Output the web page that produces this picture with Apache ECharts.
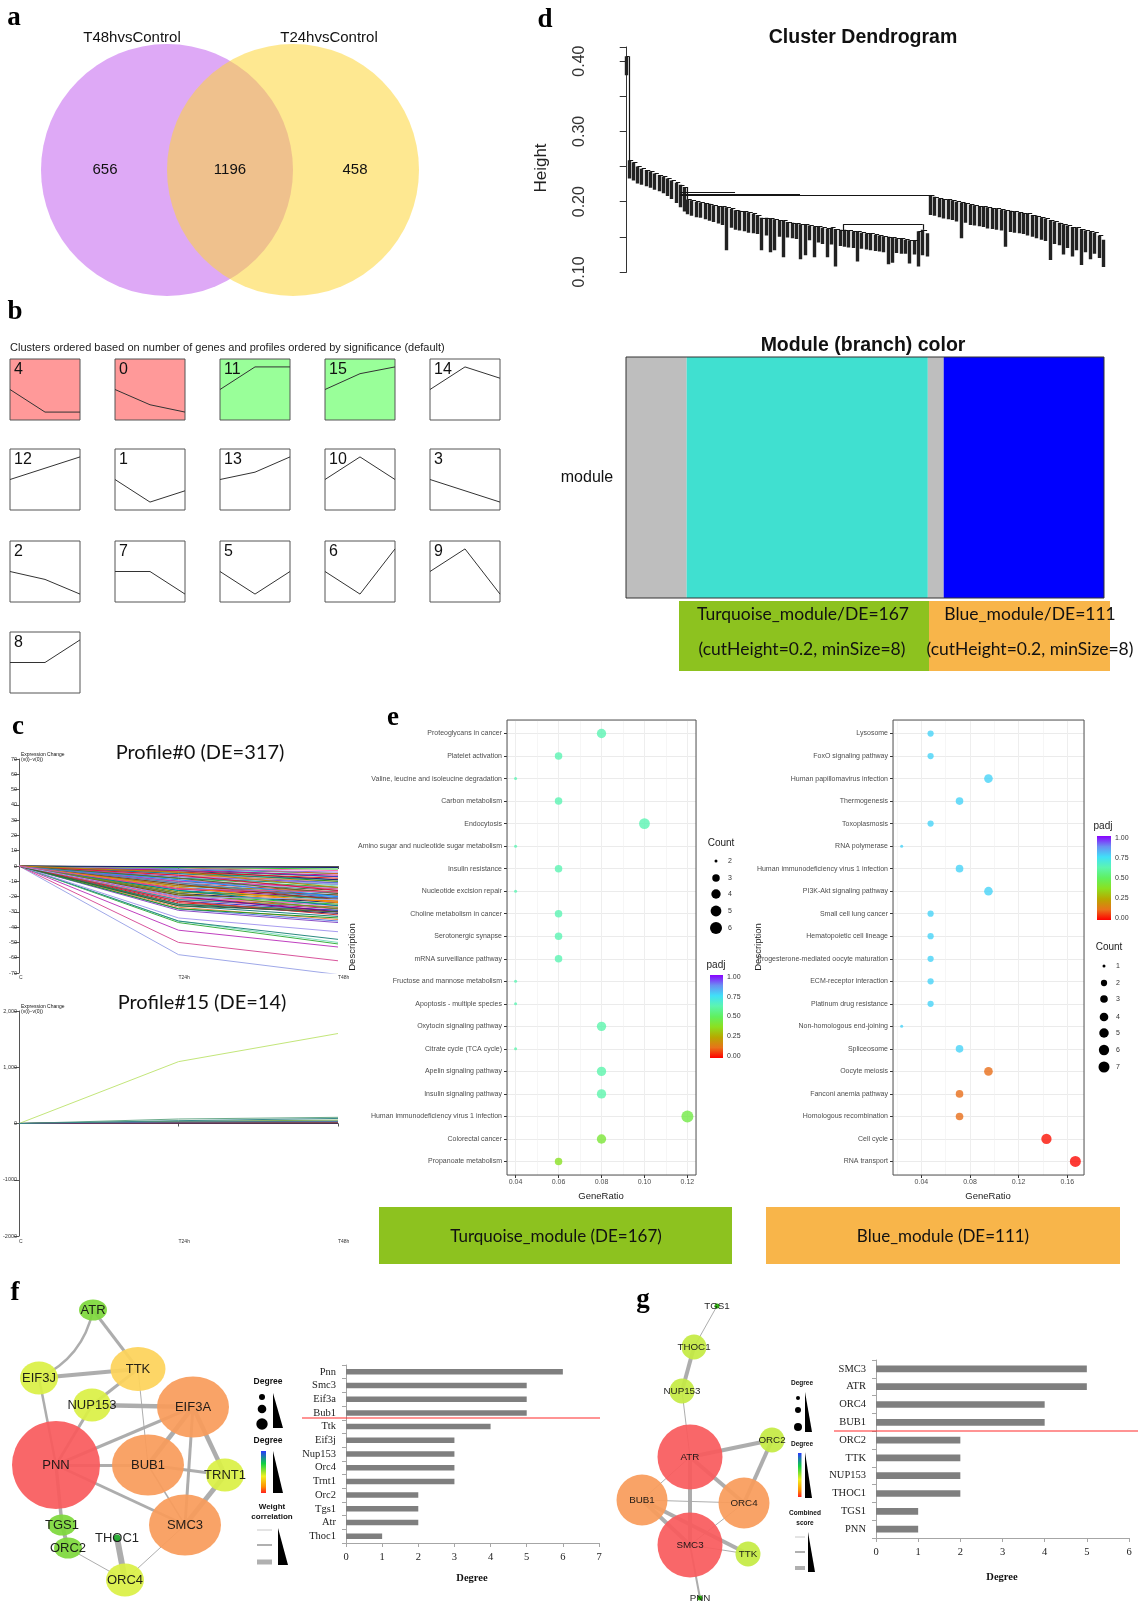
<!DOCTYPE html>
<html><head><meta charset="utf-8">
<script src="https://cdn.jsdelivr.net/npm/echarts@6/dist/echarts.min.js"></script>
<style>html,body{margin:0;padding:0;background:#fff}#c{width:1141px;height:1601px}</style>
</head><body><div id="c"></div>
<script>
// ---------------- DATA ----------------
// a: Venn
const vennSets = ['T48hvsControl', 'T24hvsControl'];
const vennCounts = [656, 1196, 458]; // only T48h, shared, only T24h

// b: STEM model profiles (v at C, T24h, T48h in unit steps)
const timeLabels = ['C', 'T24h', 'T48h'];
const profileIds = [4, 0, 11, 15, 14, 12, 1, 13, 10, 3, 2, 7, 5, 6, 9, 8];
const profileVals = [[0,-2,-2],[0,-1.35,-2],[0,2,2],[0,1.4,2],[0,2,1],[0,1,2],[0,-2,-1],[0,0.65,2],[0,2,0],[0,-1,-2],[0,-0.7,-2],[0,0,-2],[0,-2,0],[0,-2,2],[0,2,-2],[0,0,2]];
const profileSig = ['down','down','up','up','none','none','none','none','none','none','none','none','none','none','none','none'];

// c: gene expression change lines (v(T24h), v(T48h)), v(C)=0
const profile0Lines = [[-58,-71],[-50,-62],[-42,-53],[-37,-51],[-36,-50],[-36,-48],[-34,-43],[-29,-37],[-28,-36],[-27,-35],[-28,-34],[-26,-33],[-25,-31],[-24,-30],[-25,-29],[-23,-29],[-22,-28],[-22,-27],[-21,-27],[-20,-26],[-21,-25],[-19,-25],[-18,-24],[-19,-23],[-17,-23],[-16,-22],[-17,-21],[-15,-21],[-14,-20],[-15,-19],[-13,-19],[-12,-18],[-13,-17],[-11,-17],[-10,-16],[-11,-15],[-9,-15],[-10,-14],[-8,-14],[-7,-13],[-8,-12],[-6,-12],[-7,-11],[-5,-11],[-6,-10],[-4,-10],[-5,-9],[-3,-9],[-4,-8],[-3,-7],[-2,-7],[-3,-6],[-2,-5],[-1,-5],[-2,-4],[-1,-3],[-1,-2],[-0.5,-1],[-12,-22],[-14,-24],[-16,-26],[-18,-28],[-20,-30],[-9,-20],[-6,-16],[-8,-18],[-11,-21],[-4,-14],[-23,-32],[-26,-30],[-20,-22],[-15,-17]];
const profile15Lines = [[1100,1600],[80,110],[10,30],[20,25],[5,15],[30,40],[15,20],[8,12],[40,60],[3,8],[12,18],[25,35],[6,10],[50,90]];

// d: dendrogram (heights x1000) and modules
const outlierLeaf = [380, 407];
const greyTop = [259,256,250,247,245,243,240,238,236,233,230,227,224,221];
const greyBot = [233,230,226,224,222,220,217,215,212,208,204,198,192,186];
const turqTop = [203,202,200,199,198,197,195,194,193,192,190,188,187,186,185,183,181,177,177,176,175,174,173,171,170,169,168,168,166,165,165,163,162,163,161,160,160,159,158,158,156,155,155,153,152,151,150,149,148,148,146,145,145,158,160,155];
const turqBot = [182,180,178,177,175,173,171,169,167,131,163,160,159,158,156,155,154,131,152,128,131,150,121,149,148,147,118,124,145,121,142,140,121,139,108,137,136,135,134,115,133,132,131,130,129,128,111,113,127,126,126,112,125,108,124,122];
const rightTop = [209,207,205,204,203,202,200,199,198,196,195,194,193,192,191,190,189,188,187,186,185,184,183,181,180,178,176,174,172,170,168,166,164,163,161,159,158,156,152,146];
const rightBot = [181,180,178,176,175,174,172,148,170,167,166,165,164,162,161,160,159,136,157,156,155,154,152,150,148,146,144,117,140,138,125,134,122,131,110,128,118,126,120,107];
const dendroJoins = [[0,1.5,407],[40,42,221],[37,75,213],[37,120,211],[37,210,209.5],[150,205,168]];
const dendroStems = [[1.5,259,407],[42,203,221],[205,160,168],[150,158,168]];
const moduleNames = ['grey','turquoise','grey','blue'];
const moduleSizes = [42, 167, 11, 111];

// e: KEGG enrichment
const turqTerms = ['Proteoglycans in cancer','Platelet activation','Valine, leucine and isoleucine degradation','Carbon metabolism','Endocytosis','Amino sugar and nucleotide sugar metabolism','Insulin resistance','Nucleotide excision repair','Choline metabolism in cancer','Serotonergic synapse','mRNA surveillance pathway','Fructose and mannose metabolism','Apoptosis - multiple species','Oxytocin signaling pathway','Citrate cycle (TCA cycle)','Apelin signaling pathway','Insulin signaling pathway','Human immunodeficiency virus 1 infection','Colorectal cancer','Propanoate metabolism'];
const turqRatio = [0.08,0.06,0.04,0.06,0.10,0.04,0.06,0.04,0.06,0.06,0.06,0.04,0.04,0.08,0.04,0.08,0.08,0.12,0.08,0.06];
const turqCount = [4,3,2,3,5,2,3,2,3,3,3,2,2,4,2,4,4,6,4,3];
const turqPadj = [0.63,0.63,0.63,0.63,0.63,0.63,0.63,0.63,0.63,0.63,0.63,0.63,0.63,0.62,0.62,0.62,0.62,0.45,0.42,0.38];
const blueTerms = ['Lysosome','FoxO signaling pathway','Human papillomavirus infection','Thermogenesis','Toxoplasmosis','RNA polymerase','Human immunodeficiency virus 1 infection','PI3K-Akt signaling pathway','Small cell lung cancer','Hematopoietic cell lineage','Progesterone-mediated oocyte maturation','ECM-receptor interaction','Platinum drug resistance','Non-homologous end-joining','Spliceosome','Oocyte meiosis','Fanconi anemia pathway','Homologous recombination','Cell cycle','RNA transport'];
const blueRatio = [0.0476,0.0476,0.0952,0.0714,0.0476,0.0238,0.0714,0.0952,0.0476,0.0476,0.0476,0.0476,0.0476,0.0238,0.0714,0.0952,0.0714,0.0714,0.1429,0.1667];
const blueCount = [2,2,4,3,2,1,3,4,2,2,2,2,2,1,3,4,3,3,6,7];
const bluePadj = [0.77,0.77,0.77,0.77,0.77,0.77,0.77,0.77,0.77,0.77,0.77,0.77,0.77,0.77,0.77,0.12,0.12,0.12,0.02,0.01];
const padjTicks = ['1.00','0.75','0.50','0.25','0.00'];

// f, g: PPI networks and degree bars
const fBarGenes = ['Pnn','Smc3','Eif3a','Bub1','Ttk','Eif3j','Nup153','Orc4','Trnt1','Orc2','Tgs1','Atr','Thoc1'];
const fBarDegree = [6,5,5,5,4,3,3,3,3,2,2,2,1];
const gBarGenes = ['SMC3','ATR','ORC4','BUB1','ORC2','TTK','NUP153','THOC1','TGS1','PNN'];
const gBarDegree = [5,5,4,4,2,2,2,2,1,1];
const fNodes = ['ATR','TTK','EIF3J','NUP153','EIF3A','PNN','BUB1','TRNT1','SMC3','TGS1','THOC1','ORC2','ORC4'];
const fNodeX = [93,138,39,92,193,56,148,225,185,62,117,68,125];
const fNodeY = [20,79,88,115,117,175,175,185,235,235,248,258,290];
const fEdges = [['ATR','EIF3J',2.5],['ATR','TTK',3],['EIF3J','TTK',4],['TTK','NUP153',3],['TTK','BUB1',1],['EIF3J','PNN',2.5],['NUP153','EIF3A',4.5],['NUP153','PNN',3],['PNN','EIF3A',3],['PNN','BUB1',3],['BUB1','EIF3A',4.5],['BUB1','TRNT1',3],['BUB1','SMC3',1.5],['EIF3A','SMC3',3],['EIF3A','TRNT1',4.5],['TRNT1','SMC3',5],['PNN','SMC3',3],['PNN','TGS1',3.5],['TGS1','ORC2',4],['ORC2','ORC4',1],['THOC1','ORC4',6],['SMC3','ORC4',1]];
const gNodes = ['TGS1','THOC1','NUP153','ATR','ORC2','BUB1','ORC4','SMC3','TTK','PNN'];
const gNodeX = [117,94,82,90,172,42,144,90,148,100];
const gNodeY = [26,67,111,177,160,220,223,265,274,318];
const gEdges = [['TGS1','THOC1',1],['THOC1','NUP153',4],['NUP153','ATR',1],['ATR','ORC2',4],['ORC2','ORC4',4],['ATR','ORC4',4],['ATR','BUB1',1],['ATR','SMC3',4],['BUB1','ORC4',1],['BUB1','SMC3',4],['BUB1','TTK',4],['SMC3','ORC4',1],['SMC3','TTK',1],['SMC3','PNN',2]];

// ---------------- STYLE ----------------
const SANS = "'Liberation Sans', Arial, sans-serif";
const SERIF = "'Liberation Serif', 'Times New Roman', serif";
const CAL = "Lato, 'Open Sans', sans-serif";
const padjColors = ['#FF0000','#E8731A','#B8A800','#8CE020','#60F060','#5CF5B0','#40E0F8','#6A90F2','#8A00FF'];
const moduleColorMap = {grey:'#BEBEBE', turquoise:'#40E0D0', blue:'#0000FF'};
const stemPalette = ['#9FA8E8','#D9559C','#C040C0','#3CB043','#80E0C0','#2A8A80','#A89CF0','#8A4FC8','#5577DD','#EE8844','#229922','#1E7F7F','#202070','#E41A1C','#2E8B57','#3A3AC8','#C71585','#20B2AA','#D2691E','#9370DB','#FF69B4','#32CD32','#191970','#8B4513','#FF8C00','#008B8B','#6B8E23','#800080','#1E90FF','#DC143C','#556B2F','#4682B4','#B8860B','#CC3333','#336633'];
const p15Colors = ['#C3E67A','#6AAA8A','#1C2A6E','#444444','#7A3D7A','#2F6F4F','#884444','#335588','#77AA55','#222222','#AA6633','#5577AA','#663366','#3A8A8A'];

// ---------------- BUILD ----------------
const grids = [], xAxes = [], yAxes = [], series = [], graphics = [];
function addCart(g, x, y) {
  const gi = grids.length; grids.push(g);
  const xi = xAxes.length; xAxes.push(Object.assign({gridIndex: gi}, x));
  const yi = yAxes.length; yAxes.push(Object.assign({gridIndex: gi}, y));
  return {gi, xi, yi};
}
function T(text, x, y, font, extra) {
  extra = extra || {};
  graphics.push(Object.assign({type: 'text', x: x, y: y, z: 60, silent: true,
    style: Object.assign({text: text, font: font, fill: '#111', align: 'center', verticalAlign: 'middle', textAlign: 'center', textVerticalAlign: 'middle'}, extra.style || {})}, extra.el || {}));
}
function R(x, y, w, h, style, z) { graphics.push({type: 'rect', z: z || 40, silent: true, shape: {x, y, width: w, height: h}, style}); }
function L(x1, y1, x2, y2, stroke, lw, z) { graphics.push({type: 'line', z: z || 40, silent: true, shape: {x1, y1, x2, y2}, style: {stroke, lineWidth: lw}}); }
function C(cx, cy, r, fill, z, opacity) { graphics.push({type: 'circle', z: z || 40, silent: true, shape: {cx, cy, r}, style: {fill, opacity: opacity == null ? 1 : opacity}}); }
function P(points, fill) { graphics.push({type: 'polygon', z: 40, silent: true, shape: {points}, style: {fill}}); }
const hid = (o) => Object.assign({type: 'value', show: false}, o);

// panel letters
[['a',14,18],['b',15,312],['c',18,727],['d',545,20],['e',393,718],['f',15,1293],['g',643,1300]].forEach(p => T(p[0], p[1], p[2], 'bold 27px ' + SERIF, {style: {fill: '#000'}}));

// ---- a: Venn ----
C(167, 170, 126, '#DEA9F6', 5);
C(293, 170, 126, '#FDD537', 6, 0.55);
T(vennSets[0], 132, 38, '15px ' + SANS);
T(vennSets[1], 329, 38, '15px ' + SANS);
T(String(vennCounts[0]), 105, 170, '15px ' + SANS);
T(String(vennCounts[1]), 230, 170, '15px ' + SANS);
T(String(vennCounts[2]), 355, 170, '15px ' + SANS);

// ---- b: profiles ----
T('Clusters ordered based on number of genes and profiles ordered by significance (default)', 10, 348, '11px ' + SANS, {style: {align: 'left', textAlign: 'left', fill: '#222'}});
const rowTops = [359, 449, 541, 632];
const sigBg = {down: '#FF9999', up: '#99FF99', none: '#FFFFFF'};
profileIds.forEach((id, i) => {
  const col = i % 5, row = Math.floor(i / 5);
  const left = 10 + col * 105, top = rowTops[row];
  const c = addCart({left, top, width: 70, height: 61, show: true, borderColor: '#555', borderWidth: 1, backgroundColor: sigBg[profileSig[i]]},
    {type: 'category', data: timeLabels, boundaryGap: false, show: false},
    hid({min: -2.7, max: 2.7}));
  series.push({type: 'line', xAxisIndex: c.xi, yAxisIndex: c.yi, data: profileVals[i], symbol: 'none', silent: true, lineStyle: {color: '#333', width: 1}});
  T(String(id), left + 4, top + 11, '16px ' + SANS, {style: {align: 'left', textAlign: 'left', fill: '#111'}});
});

// ---- c: profile line charts ----
const axC = {lineStyle: {color: '#555', width: 1}};
const ct = addCart({left: 19, top: 759, width: 319, height: 214},
  {type: 'category', data: timeLabels, boundaryGap: false, axisLine: Object.assign({onZero: true}, axC), axisTick: {show: true, length: 3, lineStyle: {color: '#555'}}, axisLabel: {fontSize: 5, margin: 2, color: '#333', align: 'left'}},
  {type: 'value', min: -70, max: 70, interval: 10, axisLine: Object.assign({show: true}, axC), axisTick: {show: true, length: 5, lineStyle: {color: '#555'}}, axisLabel: {fontSize: 5.5, margin: 2, color: '#333'}, splitLine: {show: false}});
profile0Lines.forEach((v, i) => series.push({type: 'line', xAxisIndex: ct.xi, yAxisIndex: ct.yi, data: [0, v[0], v[1]], symbol: 'none', silent: true, lineStyle: {color: stemPalette[i % stemPalette.length], width: 1}}));
T('Profile#0 (DE=317)', 200, 753, '20px ' + CAL);
T('Expression Change', 21, 755, '5px ' + SANS, {style: {align: 'left', textAlign: 'left'}});
T('(v(i)\u2212v(0))', 21, 760, '5px ' + SANS, {style: {align: 'left', textAlign: 'left'}});

const p15Fmt = {'2000': '2,000', '1000': '1,000', '0': '0', '-1000': '-1000', '-2000': '-2000'};
const cb = addCart({left: 19, top: 1011, width: 319, height: 225},
  {type: 'category', data: timeLabels, boundaryGap: false, axisLine: Object.assign({onZero: true}, axC), axisTick: {show: true, length: 3, lineStyle: {color: '#555'}}, axisLabel: {fontSize: 5, margin: 3, color: '#333', align: 'left'}},
  {type: 'value', min: -2000, max: 2000, interval: 1000, axisLine: Object.assign({show: true}, axC), axisTick: {show: true, length: 5, lineStyle: {color: '#555'}}, axisLabel: {fontSize: 5.5, margin: 2, color: '#333', formatter: v => p15Fmt[String(v)] || ''}, splitLine: {show: false}});
profile15Lines.forEach((v, i) => series.push({type: 'line', xAxisIndex: cb.xi, yAxisIndex: cb.yi, data: [0, v[0], v[1]], symbol: 'none', silent: true, lineStyle: {color: p15Colors[i % p15Colors.length], width: 1}}));
T('Profile#15 (DE=14)', 202, 1003, '20px ' + CAL);
T('Expression Change', 21, 1007, '5px ' + SANS, {style: {align: 'left', textAlign: 'left'}});
T('(v(i)\u2212v(0))', 21, 1012, '5px ' + SANS, {style: {align: 'left', textAlign: 'left'}});

// ---- d: dendrogram ----
const dd = addCart({left: 626, top: 47, width: 478, height: 225},
  hid({min: -0.5, max: 330.5}),
  {type: 'value', min: 0.1, max: 0.42, interval: 0.05, offset: 18,
   axisLine: {show: true, lineStyle: {color: '#333', width: 1}}, axisTick: {show: true, length: 7, lineStyle: {color: '#333'}},
   axisLabel: {rotate: 90, fontSize: 16, margin: 20, color: '#333', fontFamily: SANS, formatter: v => { const r = Math.round(v * 100); return r % 10 === 0 ? (r / 100).toFixed(2) : ''; }},
   splitLine: {show: false}});
const dVert = [], dHor = [];
function chain(tops, bots, i0, i1) {
  const n = tops.length;
  for (let k = 0; k < n; k++) {
    const x = i0 + k * (i1 - i0) / (n - 1);
    dVert.push({coords: [[x, bots[k] / 1000], [x, tops[k] / 1000]]});
    if (k < n - 1) dHor.push({coords: [[x, tops[k] / 1000], [i0 + (k + 1) * (i1 - i0) / (n - 1), tops[k] / 1000]]});
  }
}
const mEnd1 = moduleSizes[0], mEnd2 = moduleSizes[0] + moduleSizes[1];
chain(greyTop, greyBot, 1.5, mEnd1 - 2);
chain(turqTop, turqBot, mEnd1, mEnd2 - 1);
chain(rightTop, rightBot, mEnd2 + 1, 330);
dVert.push({coords: [[0, outlierLeaf[0] / 1000], [0, outlierLeaf[1] / 1000]]});
dendroJoins.forEach(j => dHor.push({coords: [[j[0], j[2] / 1000], [j[1], j[2] / 1000]]}));
dendroStems.forEach(s => dHor.push({coords: [[s[0], s[1] / 1000], [s[0], s[2] / 1000]]}));
series.push({type: 'lines', coordinateSystem: 'cartesian2d', xAxisIndex: dd.xi, yAxisIndex: dd.yi, silent: true, data: dVert, lineStyle: {color: '#222222', width: 3.4, opacity: 1}});
series.push({type: 'lines', coordinateSystem: 'cartesian2d', xAxisIndex: dd.xi, yAxisIndex: dd.yi, silent: true, data: dHor, lineStyle: {color: '#151515', width: 1.2, opacity: 1}});
T('Cluster Dendrogram', 863, 38, 'bold 19.5px ' + SANS);
T('Height', 541, 168, '17px ' + SANS, {el: {rotation: Math.PI / 2}, style: {fill: '#222'}});

// module colour bar
const mb = addCart({left: 626, top: 357, width: 478, height: 241}, hid({min: 0, max: 331}), {type: 'category', data: ['module'], show: false});
moduleSizes.forEach((v, i) => series.push({type: 'bar', xAxisIndex: mb.xi, yAxisIndex: mb.yi, stack: 'mod', data: [v], barWidth: '100%', silent: true, itemStyle: {color: moduleColorMap[moduleNames[i]]}}));
R(626, 357, 478, 241, {fill: 'none', stroke: '#333', lineWidth: 1}, 45);
T('Module (branch) color', 863, 346, 'bold 19.5px ' + SANS, {el: {z: 70}});
T('module', 587, 478, '16px ' + SANS);
R(679, 601, 250, 70, {fill: '#8DC21F'}, 30);
R(929, 601, 181, 70, {fill: '#F8B54A'}, 30);
T('Turquoise_module/DE=' + moduleSizes[1], 803, 614, '17.5px ' + CAL);
T('(cutHeight=0.2, minSize=8)', 802, 649, '17.5px ' + CAL);
T('Blue_module/DE=' + moduleSizes[3], 1030, 614, '17.5px ' + CAL);
T('(cutHeight=0.2, minSize=8)', 1030, 649, '17.5px ' + CAL);

// ---- e: KEGG dot plots ----
function dotSize(c, cmin, cmax, smin, smax) { return smin + Math.sqrt((c - cmin) / (cmax - cmin)) * (smax - smin); }
function ePlot(left, width, xmin, xmax, major, minor, terms, ratio, count, padj, cmin, cmax, smax) {
  const g = addCart({left, top: 720, width, height: 455},
    {type: 'value', position: 'bottom', min: xmin, max: xmax, minInterval: major, maxInterval: major, axisLine: {show: false, onZero: false},
     axisTick: {show: true, length: 3, lineStyle: {color: '#333'}},
     axisLabel: {fontSize: 7, color: '#4D4D4D', margin: 4, fontFamily: SANS, showMinLabel: false, showMaxLabel: false, formatter: v => v.toFixed(2)},
     splitLine: {show: true, lineStyle: {color: '#EBEBEB', width: 1}}},
    {type: 'value', inverse: true, min: -0.6, max: terms.length - 0.4, minInterval: 1, maxInterval: 1, axisLine: {show: false, onZero: false},
     axisTick: {show: true, length: 3, lineStyle: {color: '#333'}},
     axisLabel: {fontSize: 7, color: '#4D4D4D', margin: 5, fontFamily: SANS, showMinLabel: false, showMaxLabel: false,
       formatter: v => Math.abs(v - Math.round(v)) < 1e-6 ? (terms[Math.round(v)] || '') : ''},
     splitLine: {show: true, lineStyle: {color: '#EBEBEB', width: 1}}});
  xAxes.push({gridIndex: g.gi, type: 'value', position: 'top', min: xmin, max: xmax, minInterval: minor, maxInterval: minor, axisLine: {show: false, onZero: false}, axisTick: {show: false}, axisLabel: {show: false}, splitLine: {show: true, lineStyle: {color: '#F0F0F0', width: 0.6}}});
  const si = series.length;
  series.push({type: 'scatter', xAxisIndex: g.xi, yAxisIndex: g.yi, silent: true, z: 5,
    data: terms.map((t, i) => [ratio[i], i, count[i], padj[i]]),
    symbolSize: v => dotSize(v[2], cmin, cmax, 3, smax)});
  R(left, 720, width, 455, {fill: 'none', stroke: '#555', lineWidth: 1}, 45);
  return si;
}
const sL = ePlot(507, 189, 0.036, 0.124, 0.02, 0.01, turqTerms, turqRatio, turqCount, turqPadj, 2, 6, 12);
const sR = ePlot(893, 191, 0.01667, 0.1738, 0.04, 0.02, blueTerms, blueRatio, blueCount, bluePadj, 1, 7, 11);
T('Description', 352, 947, '9.5px ' + SANS, {el: {rotation: Math.PI / 2}, style: {fill: '#222'}});
T('Description', 758, 947, '9.5px ' + SANS, {el: {rotation: Math.PI / 2}, style: {fill: '#222'}});
T('GeneRatio', 601, 1196, '9.5px ' + SANS, {style: {fill: '#222'}});
T('GeneRatio', 988, 1196, '9.5px ' + SANS, {style: {fill: '#222'}});

function padjBar(x, y, w, h, titleY) {
  T('padj', x + 6, titleY, '10px ' + SANS, {style: {fill: '#222'}});
  const stops = padjColors.slice().reverse().map((c, i, a) => ({offset: i / (a.length - 1), color: c}));
  R(x, y, w, h, {fill: new echarts.graphic.LinearGradient(0, 0, 0, 1, stops)}, 40);
  padjTicks.forEach((t, i) => T(t, x + w + 4, y + 2 + i * (h - 4) / 4, '7px ' + SANS, {style: {align: 'left', textAlign: 'left', fill: '#333'}}));
}
function countLegend(x, titleY, ys, counts, cmin, cmax, smax) {
  T('Count', x + 5, titleY, '10px ' + SANS, {style: {fill: '#222'}});
  counts.forEach((c, i) => {
    C(x, ys[i], dotSize(c, cmin, cmax, 3, smax) / 2, '#000', 41);
    T(String(c), x + 12, ys[i], '7px ' + SANS, {style: {align: 'left', textAlign: 'left', fill: '#333'}});
  });
}
countLegend(716, 843, [861, 878, 894, 911, 928], [2, 3, 4, 5, 6], 2, 6, 12);
padjBar(710, 975, 13, 83, 965);
padjBar(1097, 836, 14, 84, 826);
countLegend(1104, 947, [966, 983, 999, 1017, 1033, 1050, 1067], [1, 2, 3, 4, 5, 6, 7], 1, 7, 11);

R(379, 1207, 353, 57, {fill: '#8DC21F'}, 30);
R(766, 1207, 354, 57, {fill: '#F8B54A'}, 30);
T('Turquoise_module (DE=' + moduleSizes[1] + ')', 556, 1237, '17px ' + CAL);
T('Blue_module (DE=' + moduleSizes[3] + ')', 943, 1237, '17px ' + CAL);

// ---- f, g: degree bars ----
function degBars(left, top, width, max, genes, deg, bw) {
  const g = addCart({left, top, width, height: 178},
    {type: 'value', min: 0, max, interval: 1, axisLine: {show: true, onZero: false, lineStyle: {color: '#A6A6A6'}}, axisTick: {show: true, length: 4, lineStyle: {color: '#A6A6A6'}},
     axisLabel: {fontFamily: SERIF, fontSize: 10.5, color: '#222', margin: 9}, splitLine: {show: false}},
    {type: 'category', inverse: true, data: genes, axisLine: {show: true, lineStyle: {color: '#A6A6A6'}}, axisTick: {show: true, length: 4, interval: 0, lineStyle: {color: '#A6A6A6'}},
     axisLabel: {fontFamily: SERIF, fontSize: 10.5, color: '#222', margin: 10, interval: 0}});
  series.push({type: 'bar', xAxisIndex: g.xi, yAxisIndex: g.yi, data: deg, barWidth: bw, silent: true, itemStyle: {color: '#7F7F7F'}});
}
degBars(346, 1365, 253, 7, fBarGenes, fBarDegree, 5.5);
degBars(876, 1360, 253, 6, gBarGenes, gBarDegree, 6.7);
L(302, 1418, 600, 1418, '#FF2A2A', 1.2, 50);
L(834, 1431, 1138, 1431, '#FF2A2A', 1.2, 50);
T('Degree', 472, 1578, 'bold 10.5px ' + SERIF);
T('Degree', 1002, 1577, 'bold 10.5px ' + SERIF);

// ---- f, g: networks ----
function network(left, top, w, h, names, xs, ys, edges, sizeBy, colorBy, fontSize) {
  const g = addCart({left, top, width: w, height: h}, hid({min: 0, max: w}), hid({min: 0, max: h, inverse: true}));
  const deg = {}; names.forEach(n => deg[n] = 0);
  edges.forEach(e => { deg[e[0]]++; deg[e[1]]++; });
  series.push({type: 'graph', coordinateSystem: 'cartesian2d', xAxisIndex: g.xi, yAxisIndex: g.yi, silent: true, z: 4,
    data: names.map((n, i) => ({name: n, value: [xs[i], ys[i]], symbol: 'circle', symbolSize: sizeBy[deg[n]], itemStyle: {color: colorBy[deg[n]], opacity: 0.93}})),
    links: edges.map(e => ({source: e[0], target: e[1], lineStyle: {width: e[2], curveness: (e[0] === 'ATR' && e[1] === 'EIF3J') ? 0.25 : 0}})),
    label: {show: true, position: 'inside', fontSize, color: '#111', fontFamily: SANS},
    lineStyle: {color: '#A9A9A9', opacity: 0.95}});
}
network(0, 1290, 260, 311, fNodes, fNodeX, fNodeY, fEdges,
  {1: [7, 7], 2: [28, 21], 3: [38, 33], 4: [55, 44], 5: [72, 61], 6: [88, 88]},
  {1: '#1FA82A', 2: '#7ED83C', 3: '#DAF046', 4: '#FDD35A', 5: '#F99C5B', 6: '#F95B5E'}, 13);
network(600, 1280, 180, 321, gNodes, gNodeX, gNodeY, gEdges,
  {1: [5, 5], 2: [25, 25], 4: [51, 51], 5: [65, 65]},
  {1: '#22B100', 2: '#C5EB44', 4: '#F99C5B', 5: '#F95B5E'}, 9.8);

// network legends
const degGrad = () => new echarts.graphic.LinearGradient(0, 0, 0, 1, [{offset: 0, color: '#2838FF'}, {offset: 0.3, color: '#10D040'}, {offset: 0.6, color: '#F0F020'}, {offset: 0.85, color: '#FF9000'}, {offset: 1, color: '#FF2020'}]);
T('Degree', 268, 1382, 'bold 8.5px ' + SANS);
C(262, 1397, 3, '#000'); C(262, 1409, 4.3, '#000'); C(262, 1424, 5.7, '#000');
P([[273, 1393], [273, 1428], [283, 1428]], '#000');
T('Degree', 268, 1441, 'bold 8.5px ' + SANS);
R(261, 1451, 5, 42, {fill: degGrad()});
P([[273, 1451], [273, 1493], [283, 1493]], '#000');
T('Weight', 272, 1507, 'bold 8px ' + SANS);
T('correlation', 272, 1517, 'bold 8px ' + SANS);
L(257, 1530, 272, 1530, '#C8C8C8', 1); L(257, 1545, 272, 1545, '#B0B0B0', 2); L(257, 1562, 272, 1562, '#B0B0B0', 5);
P([[278, 1528], [278, 1565], [288, 1565]], '#000');

T('Degree', 802, 1383, 'bold 6.5px ' + SANS);
C(798, 1398, 2, '#000'); C(798, 1410, 3, '#000'); C(798, 1427, 4, '#000');
P([[805, 1392], [805, 1432], [812, 1432]], '#000');
T('Degree', 802, 1444, 'bold 6.5px ' + SANS);
R(798, 1453, 3.5, 44, {fill: degGrad()});
P([[805, 1452], [805, 1498], [812, 1498]], '#000');
T('Combined', 805, 1513, 'bold 6.5px ' + SANS);
T('score', 805, 1523, 'bold 6.5px ' + SANS);
L(795, 1537, 805, 1537, '#C8C8C8', 1); L(795, 1552, 805, 1552, '#B0B0B0', 2); L(795, 1568, 805, 1568, '#B0B0B0', 4);
P([[808, 1532], [808, 1572], [815, 1572]], '#000');

// ---------------- RENDER ----------------
const chart = echarts.init(document.getElementById('c'), null, {renderer: 'canvas', width: 1141, height: 1601});
chart.setOption({
  animation: false,
  backgroundColor: '#ffffff',
  textStyle: {fontFamily: SANS},
  grid: grids, xAxis: xAxes, yAxis: yAxes, series: series,
  visualMap: [{type: 'continuous', show: false, min: 0, max: 1, dimension: 3, seriesIndex: [sL, sR], inRange: {color: padjColors}}],
  graphic: {elements: graphics}
});
</script></body></html>
